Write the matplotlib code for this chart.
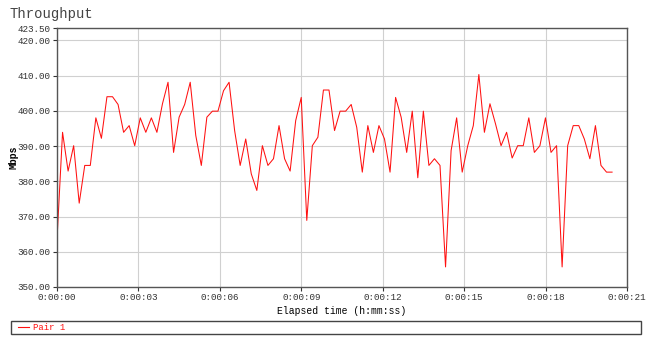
import numpy as np
import matplotlib
matplotlib.use("Agg")
import matplotlib.pyplot as plt
from matplotlib.lines import Line2D
from matplotlib.patches import Rectangle

# throughput samples (Mbps), one every ~0.2 s
mbps = [363.5, 393.9, 382.9, 390.1, 373.8, 384.5, 384.5, 398.0, 392.2, 404.0,
        404.0, 401.8, 393.9, 395.8, 390.1, 398.0, 393.9, 398.0, 393.9, 402.0,
        408.1, 388.2, 398.2, 401.8, 408.1, 393.0, 384.5, 398.2, 399.9, 399.9,
        405.7, 408.1, 394.4, 384.5, 392.0, 382.1, 377.4, 390.1, 384.5, 386.4,
        395.8, 386.4, 382.9, 397.2, 403.8, 368.9, 390.1, 392.5, 405.9, 405.9,
        394.4, 399.9, 399.9, 401.8, 395.3, 382.6, 395.8, 388.2, 395.8, 392.0,
        382.6, 403.8, 398.2, 388.2, 399.9, 381.0, 399.9, 384.5, 386.4, 384.5,
        355.7, 388.7, 398.0, 382.6, 390.1, 395.8, 410.3, 393.9, 402.0, 396.3,
        390.1, 393.9, 386.6, 390.1, 390.1, 398.0, 388.2, 390.1, 398.0, 388.2,
        390.1, 355.7, 390.1, 395.8, 395.8, 392.0, 386.4, 395.8, 384.5, 382.6,
        382.6]
sample_step = 0.2045
xticks = [0, 3, 6, 9, 12, 15, 18, 21]
xlabels = ["0:00:00", "0:00:03", "0:00:06", "0:00:09", "0:00:12", "0:00:15", "0:00:18", "0:00:21"]
yticks = [350, 360, 370, 380, 390, 400, 410, 420, 423.5]
ylabels = ["%.2f" % v for v in yticks]

t = np.arange(len(mbps)) * sample_step

font = "Liberation Mono"
fig = plt.figure(figsize=(6.49, 3.47), dpi=100)
ax = fig.add_axes([57/649, 1-287/347, 570/649, 259/347])

ax.plot(t, mbps, color="#ff1010", lw=0.75)
ax.set_xlim(0, 21)
ax.set_ylim(350, 423.5)
ax.set_xticks(xticks)
ax.set_xticklabels(xlabels, fontsize=6.7, family=font, color="#333333")
ax.set_yticks(yticks)
ax.set_yticklabels(ylabels, fontsize=6.7, family=font, color="#333333")
ax.grid(True, color="#d0d0d0", lw=0.8)
ax.tick_params(axis="both", length=3, width=0.8, color="#333333", pad=1.5)
for s in ax.spines.values():
    s.set_color("#555555")
    s.set_linewidth(1.0)

ax.set_xlabel("Elapsed time (h:mm:ss)", fontsize=7, family=font, labelpad=3)
ax.set_ylabel("Mbps", fontsize=7, family=font, fontweight="bold")
ax.yaxis.set_label_coords(-0.068, 0.5)
fig.text(10/649, 1-14/347, "Throughput", fontsize=10, family=font,
         color="#444444", va="center", ha="left")

# legend box along the bottom
fig.patches.append(Rectangle((11/649, 1-334/347), 630/649, 13/347, transform=fig.transFigure,
                             fill=False, edgecolor="#444444", lw=1.0))
fig.lines.append(Line2D([18/649, 29/649], [1-327/347, 1-327/347], transform=fig.transFigure,
                        color="#ff1010", lw=0.8))
fig.text(33/649, 1-327.5/347, "Pair 1", fontsize=6.5, family=font, color="#ff1010", va="center")

fig.savefig("out.png", dpi=100)
